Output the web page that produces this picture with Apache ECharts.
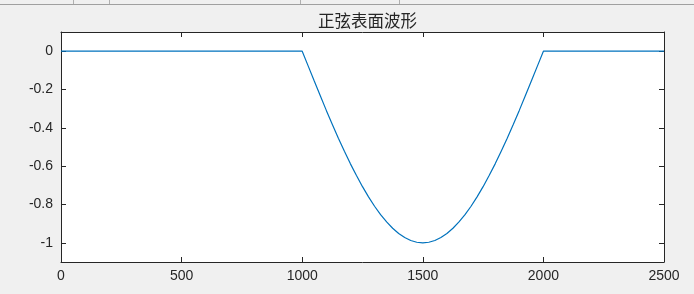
<!DOCTYPE html>
<html>
<head>
<meta charset="utf-8">
<script src="https://cdn.jsdelivr.net/npm/echarts@6/dist/echarts.min.js"></script>
<style>
html,body{margin:0;padding:0;background:#f0f0f0;}
#c{width:694px;height:294px;}
</style>
</head>
<body>
<div id="c"></div>
<script>
var titleText = '正弦表面波形';
var xTicks = [0, 500, 1000, 1500, 2000, 2500];
var yTicks = [0, -0.2, -0.4, -0.6, -0.8, -1];
var xs = [0, 500, 1000, 1025, 1050, 1075, 1100, 1125, 1150, 1175, 1200, 1225, 1250,
  1275, 1300, 1325, 1350, 1375, 1400, 1425, 1450, 1475, 1500,
  1525, 1550, 1575, 1600, 1625, 1650, 1675, 1700, 1725, 1750,
  1775, 1800, 1825, 1850, 1875, 1900, 1925, 1950, 1975, 2000, 2500];
var ys = [0, 0, 0, -0.078, -0.156, -0.233, -0.309, -0.383, -0.454, -0.522, -0.588, -0.649, -0.707,
  -0.760, -0.809, -0.853, -0.891, -0.924, -0.951, -0.972, -0.988, -0.997, -1.0,
  -0.997, -0.988, -0.972, -0.951, -0.924, -0.891, -0.853, -0.809, -0.760, -0.707,
  -0.649, -0.588, -0.522, -0.454, -0.383, -0.309, -0.233, -0.156, -0.078, 0, 0];

var pts = xs.map(function (x, i) { return [x, ys[i]]; });
var axisCol = '#262626';
var chart = echarts.init(document.getElementById('c'), null, {renderer: 'canvas'});
function xAxisDef(pos, showLabel) {
  return {
    type: 'value', position: pos, min: 0, max: 2500,
    axisLine: {show: true, onZero: false, lineStyle: {color: axisCol, width: 1}},
    axisTick: {show: true, inside: true, length: 5, customValues: xTicks, lineStyle: {color: axisCol}},
    axisLabel: {show: showLabel, customValues: xTicks, margin: 7, color: axisCol, fontSize: 14, fontFamily: 'Liberation Sans',
      formatter: function (v) { return String(Math.round(v)); }},
    splitLine: {show: false}
  };
}
function yAxisDef(pos, showLabel) {
  return {
    type: 'value', position: pos, min: -1.1, max: 0.1,
    axisLine: {show: true, onZero: false, lineStyle: {color: axisCol, width: 1}},
    axisTick: {show: true, inside: true, length: 5, customValues: yTicks, lineStyle: {color: axisCol}},
    axisLabel: {show: showLabel, customValues: yTicks, margin: 8, color: axisCol, fontSize: 14, fontFamily: 'Liberation Sans',
      formatter: function (v) { return String(Math.round(v * 10) / 10); }},
    splitLine: {show: false}
  };
}
chart.setOption({
  backgroundColor: '#f0f0f0',
  animation: false,
  title: {
    text: titleText, left: 362.5, top: 7, textAlign: 'center',
    textStyle: {fontSize: 16.5, fontWeight: 'normal', color: '#262626', fontFamily: 'Noto Sans CJK SC'}
  },
  grid: {left: 61, right: 30, top: 32, bottom: 32, show: true, backgroundColor: '#ffffff', borderWidth: 0},
  xAxis: [xAxisDef('bottom', true), xAxisDef('top', false)],
  yAxis: [yAxisDef('left', true), yAxisDef('right', false)],
  graphic: [
    {type: 'line', shape: {x1: 0, y1: 4.5, x2: 694, y2: 4.5}, style: {stroke: '#a0a0a0', lineWidth: 1}, silent: true},
    {type: 'line', shape: {x1: 73.5, y1: 0, x2: 73.5, y2: 4}, style: {stroke: '#b0b0b0', lineWidth: 1}, silent: true},
    {type: 'line', shape: {x1: 109.5, y1: 0, x2: 109.5, y2: 4}, style: {stroke: '#b0b0b0', lineWidth: 1}, silent: true},
    {type: 'line', shape: {x1: 300.5, y1: 0, x2: 300.5, y2: 4}, style: {stroke: '#b0b0b0', lineWidth: 1}, silent: true},
    {type: 'line', shape: {x1: 399.5, y1: 0, x2: 399.5, y2: 4}, style: {stroke: '#b0b0b0', lineWidth: 1}, silent: true}
  ],
  series: [{
    type: 'line', data: pts, xAxisIndex: 0, yAxisIndex: 0,
    showSymbol: false, symbol: 'none', smooth: false,
    lineStyle: {color: '#0072BD', width: 1.2}
  }]
});
</script>
</body>
</html>
